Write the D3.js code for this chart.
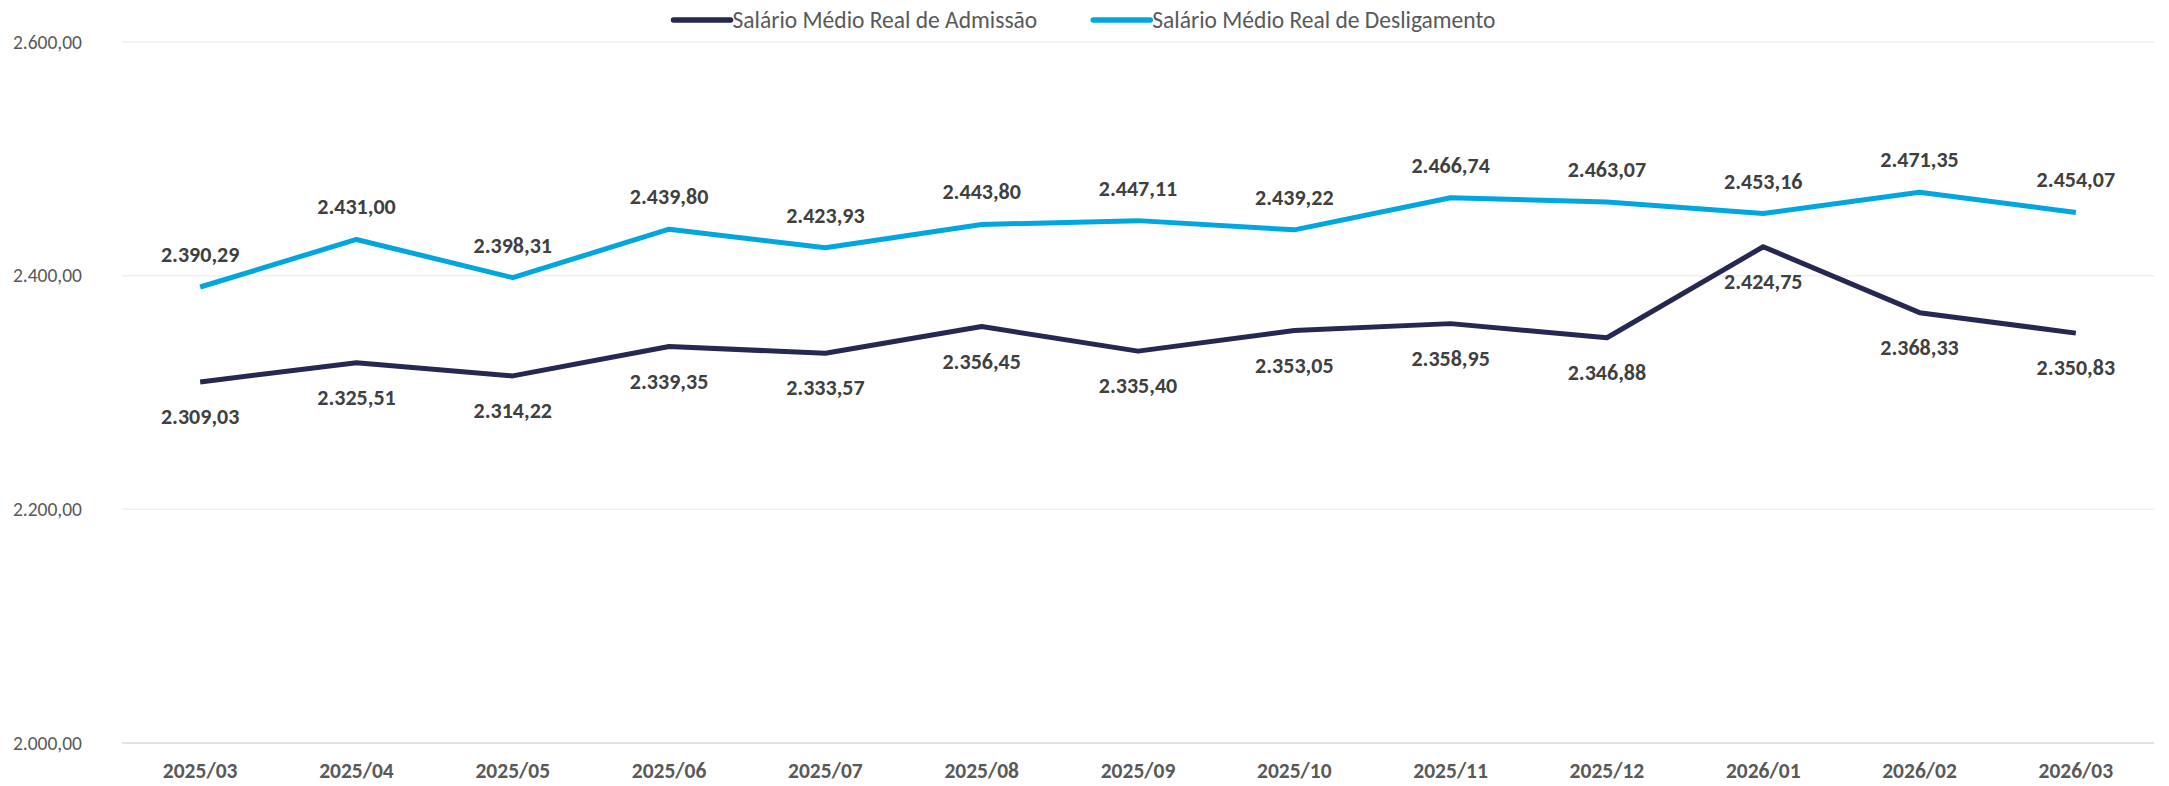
<!DOCTYPE html>
<html>
<head>
<meta charset="utf-8">
<script src="https://cdn.jsdelivr.net/npm/d3@7"></script>
<style>
  body { margin: 0; background: #fff; }
  text { font-family: Calibri, Carlito, Lato, sans-serif; }
</style>
</head>
<body>
<div id="chart"></div>
<script>
// data
var months = ["2025/03", "2025/04", "2025/05", "2025/06", "2025/07", "2025/08", "2025/09",
              "2025/10", "2025/11", "2025/12", "2026/01", "2026/02", "2026/03"];
var admissao = [2309.03, 2325.51, 2314.22, 2339.35, 2333.57, 2356.45, 2335.40,
                2353.05, 2358.95, 2346.88, 2424.75, 2368.33, 2350.83];
var desligamento = [2390.29, 2431.00, 2398.31, 2439.80, 2423.93, 2443.80, 2447.11,
                    2439.22, 2466.74, 2463.07, 2453.16, 2471.35, 2454.07];
var yTicks = [2000, 2200, 2400, 2600];
var seriesNames = ["Salário Médio Real de Admissão", "Salário Médio Real de Desligamento"];

var W = 2169, H = 786;
var margin = {top: 42, right: 15, bottom: 43, left: 122};
var width = W - margin.left - margin.right,
    height = H - margin.top - margin.bottom;

var ptBR = d3.formatLocale({decimal: ",", thousands: ".", grouping: [3], currency: ["R$", ""]});
var fmt = ptBR.format(",.2f");

var x = d3.scalePoint().domain(months).range([0, width]).padding(0.5);
var y = d3.scaleLinear().domain([2000, 2600]).range([height, 0]);

var svg = d3.select("#chart").append("svg")
    .attr("width", W)
    .attr("height", H);

var g = svg.append("g")
    .attr("transform", "translate(" + margin.left + "," + margin.top + ")");

// gridlines
g.selectAll(".grid")
    .data(yTicks)
  .enter().append("line")
    .attr("x1", 0)
    .attr("x2", width)
    .attr("y1", function(d) { return y(d); })
    .attr("y2", function(d) { return y(d); })
    .attr("stroke", function(d) { return d === 2000 ? "#d9d9d9" : "#f0f0f0"; })
    .attr("stroke-width", 1.5);

// y axis labels
g.selectAll(".ylab")
    .data(yTicks)
  .enter().append("text")
    .attr("x", -40)
    .attr("y", function(d) { return y(d); })
    .attr("dy", "0.35em")
    .attr("text-anchor", "end")
    .attr("fill", "#595959")
    .style("font-size", "19.5px")
    .text(function(d) { return fmt(d); });

// x axis labels
g.selectAll(".xlab")
    .data(months)
  .enter().append("text")
    .attr("x", function(d) { return x(d); })
    .attr("y", height + 35)
    .attr("text-anchor", "middle")
    .attr("fill", "#595959")
    .style("font-size", "21.5px")
    .style("font-weight", "bold")
    .text(function(d) { return d; });

var series = [
  {name: seriesNames[0], values: admissao, color: "#242852", above: false},
  {name: seriesNames[1], values: desligamento, color: "#00a6e0", above: true}
];

var line = d3.line()
    .x(function(d, i) { return x(months[i]); })
    .y(function(d) { return y(d); });

series.forEach(function(s) {
  g.append("path")
      .datum(s.values)
      .attr("fill", "none")
      .attr("stroke", s.color)
      .attr("stroke-width", 5)
      .attr("stroke-linejoin", "round")
      .attr("d", line);

  g.selectAll(null)
      .data(s.values)
    .enter().append("text")
      .attr("x", function(d, i) { return x(months[i]); })
      .attr("y", function(d) { return y(d) + (s.above ? -25 : 42); })
      .attr("text-anchor", "middle")
      .attr("fill", "#404040")
      .style("font-size", "22px")
      .style("font-weight", "bold")
      .text(function(d) { return fmt(d); });
});

// legend
var legend = svg.append("g");
var lx = 0;
var items = legend.selectAll("g")
    .data(series)
  .enter().append("g");
items.append("line")
    .attr("x1", 0).attr("x2", 57)
    .attr("y1", 0).attr("y2", 0)
    .attr("stroke", function(d) { return d.color; })
    .attr("stroke-width", 5.5)
    .attr("stroke-linecap", "round");
items.append("text")
    .attr("x", 59)
    .attr("dy", "0.35em")
    .attr("fill", "#595959")
    .style("font-size", "23.5px")
    .text(function(d) { return d.name; });
items.each(function() {
  d3.select(this).attr("transform", "translate(" + lx + ",0)");
  lx += this.getBBox().width + 56;
});
var totalW = lx - 56;
legend.attr("transform", "translate(" + (W / 2 - totalW / 2) + ",20)");
</script>
</body>
</html>
